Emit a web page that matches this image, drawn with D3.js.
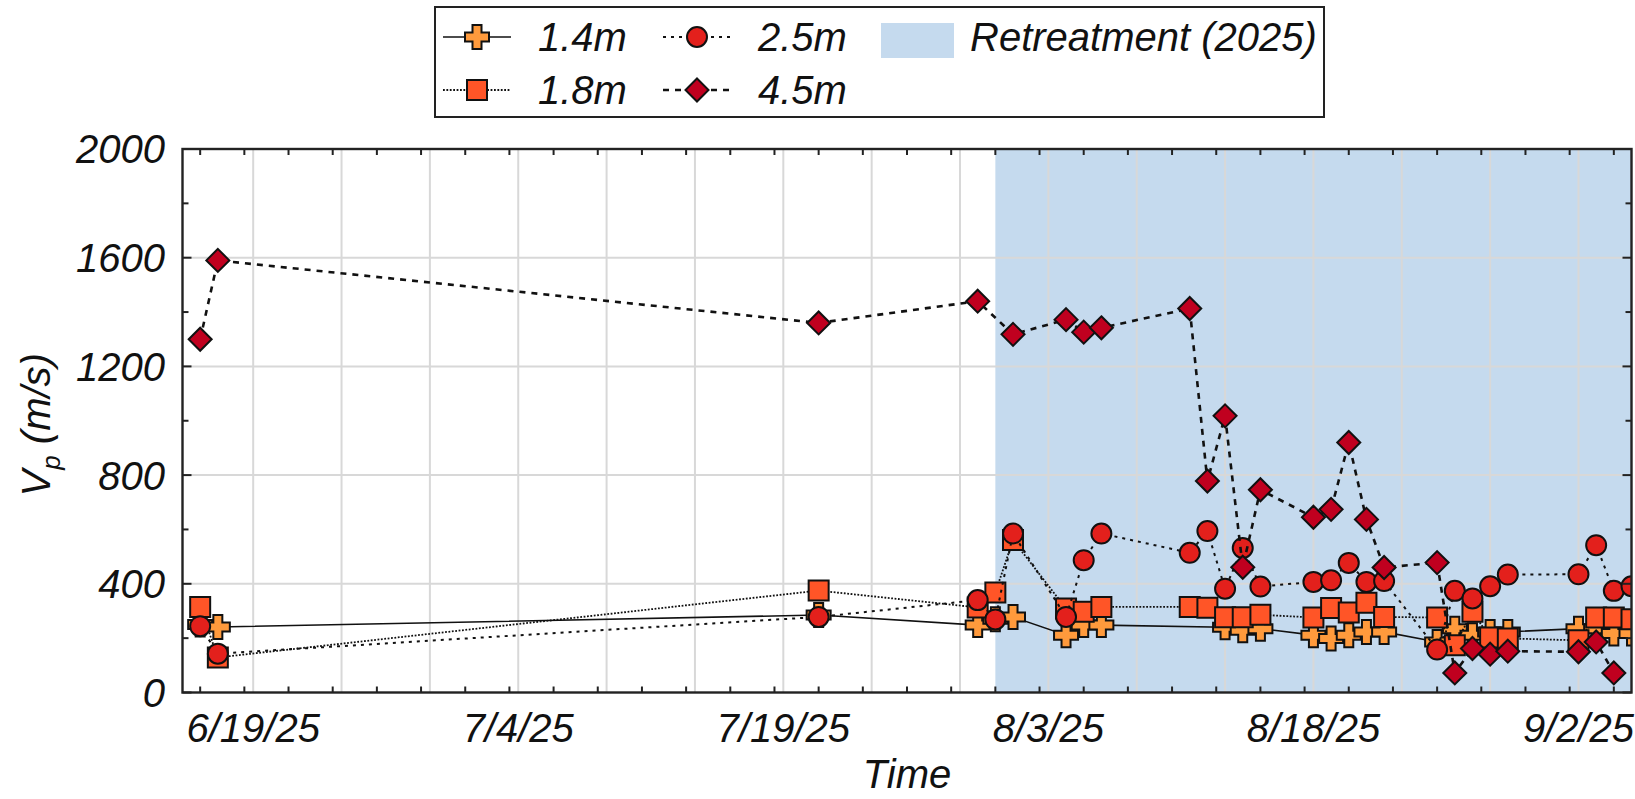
<!DOCTYPE html>
<html>
<head>
<meta charset="utf-8">
<script src="https://cdn.jsdelivr.net/npm/d3@7"></script>
<style>
  html, body { margin: 0; padding: 0; background: #ffffff; }
  svg text { font-family: "Liberation Sans", Arial, sans-serif; font-style: italic; fill: #111; }
</style>
</head>
<body>
<svg id="chart" width="1635" height="799"></svg>
<script>
// ---- measurement dates (m/d, 2025) and P-wave velocities (m/s) ----
const dates14 = ["6/16","6/17","7/21","7/30","7/31","8/1","8/4","8/5","8/6","8/13","8/14","8/15","8/18","8/19","8/20","8/21","8/22","8/25","8/26","8/27","8/28","8/29","9/2","9/3","9/4","9/5"];
const vp14    = [250, 241, 285, 248, 270, 278, 211, 248, 248, 240, 229, 235, 211, 199, 211, 223, 223, 186, 235, 211, 223, 223, 235, 235, 217, 217];

const dates18 = ["6/16","6/17","7/21","7/30","7/31","8/1","8/4","8/5","8/6","8/11","8/12","8/13","8/14","8/15","8/18","8/19","8/20","8/21","8/22","8/25","8/26","8/27","8/28","8/29","9/2","9/3","9/4","9/5"];
const vp18    = [315, 129, 375, 313, 368, 561, 309, 297, 315, 315, 312, 277, 277, 286, 276, 311, 294, 330, 278, 276, 174, 297, 202, 199, 192, 276, 276, 270];

const dates25 = ["6/16","6/17","7/21","7/30","7/31","8/1","8/4","8/5","8/6","8/11","8/12","8/13","8/14","8/15","8/18","8/19","8/20","8/21","8/22","8/25","8/26","8/27","8/28","8/29","9/2","9/3","9/4","9/5"];
const vp25    = [244, 143, 278, 340, 269, 585, 278, 487, 585, 514, 594, 382, 532, 390, 407, 413, 477, 407, 410, 158, 374, 346, 391, 434, 435, 542, 374, 391];

const dates45 = ["6/16","6/17","7/21","7/30","8/1","8/4","8/5","8/6","8/11","8/12","8/13","8/14","8/15","8/18","8/19","8/20","8/21","8/22","8/25","8/26","8/27","8/28","8/29","9/2","9/3","9/4"];
const vp45    = [1300, 1590, 1360, 1440, 1318, 1372, 1326, 1342, 1413, 778, 1018, 461, 746, 645, 674, 920, 637, 460, 478, 72, 162, 141, 152, 150, 186, 72];

// retreatment window and axis limits
const retreatStart = "7/31";
const xStart = "6/15", xEnd = "9/5";
const xTickDates = ["6/19","7/4","7/19","8/3","8/18","9/2"];
const yTicks = [0, 400, 800, 1200, 1600, 2000];

const parse = s => { const [m, d] = s.split("/").map(Number); return new Date(2025, m - 1, d); };
const fmt = d => `${d.getMonth() + 1}/${d.getDate()}/25`;

const svg = d3.select("#chart");
const M = { left: 182.5, right: 1631.5, top: 149, bottom: 692.5 };

const x = d3.scaleTime().domain([parse(xStart), parse(xEnd)]).range([M.left, M.right]);
const y = d3.scaleLinear().domain([0, 2000]).range([M.bottom, M.top]);

svg.append("defs").append("clipPath").attr("id", "plotclip")
  .append("rect").attr("x", M.left).attr("y", M.top)
  .attr("width", M.right - M.left).attr("height", M.bottom - M.top);

// shaded retreatment period
svg.append("rect")
  .attr("x", x(parse(retreatStart))).attr("y", M.top)
  .attr("width", M.right - x(parse(retreatStart))).attr("height", M.bottom - M.top)
  .attr("fill", "#c5daee");

// grid: every 5 days vertically, every 400 m/s horizontally
const gridDays = [];
for (let d = parse("6/19"); d <= parse(xEnd); d = d3.timeDay.offset(d, 5)) gridDays.push(d);
const g = svg.append("g").attr("stroke", "#d8d8d8").attr("stroke-width", 2);
gridDays.forEach(d => g.append("line").attr("x1", x(d)).attr("x2", x(d)).attr("y1", M.top).attr("y2", M.bottom));
yTicks.slice(1, -1).forEach(v => g.append("line").attr("x1", M.left).attr("x2", M.right).attr("y1", y(v)).attr("y2", y(v)));

// series styles
const series = [
  { name: "1.4m", dates: dates14, vals: vp14, shape: "plus",    fill: "#ff9a3c", dash: null,      lw: 1.6 },
  { name: "1.8m", dates: dates18, vals: vp18, shape: "square",  fill: "#ff5527", dash: "1.8,1.6", lw: 1.8 },
  { name: "2.5m", dates: dates25, vals: vp25, shape: "circle",  fill: "#e3201c", dash: "3,5",     lw: 2 },
  { name: "4.5m", dates: dates45, vals: vp45, shape: "diamond", fill: "#c0001f", dash: "6,6",     lw: 2.6 }
];

function markerPath(shape) {
  if (shape === "plus") {
    const a = 12, b = 4.5;
    return `M${-b},${-a}H${b}V${-b}H${a}V${b}H${b}V${a}H${-b}V${b}H${-a}V${-b}H${-b}Z`;
  }
  if (shape === "square") return "M-10,-10H10V10H-10Z";
  if (shape === "diamond") return "M0,-11.5L11.5,0L0,11.5L-11.5,0Z";
  return d3.symbol(d3.symbolCircle, Math.PI * 10 * 10)();
}

const plot = svg.append("g").attr("clip-path", "url(#plotclip)");
const line = d3.line().x(d => x(d.t)).y(d => y(d.v));

series.forEach(s => {
  s.pts = s.dates.map((t, i) => ({ t: parse(t), v: s.vals[i] }));
});
// each series: line, then its markers, in plotting order
series.forEach(s => {
  const p = plot.append("path").datum(s.pts).attr("d", line)
    .attr("fill", "none").attr("stroke", "#111").attr("stroke-width", s.lw);
  if (s.dash) p.attr("stroke-dasharray", s.dash);
  plot.selectAll(null).data(s.pts).enter().append("path")
    .attr("d", markerPath(s.shape))
    .attr("transform", d => `translate(${x(d.t)},${y(d.v)})`)
    .attr("fill", s.fill).attr("stroke", "#111").attr("stroke-width", 2);
});

// axes box and inward ticks (ticks on all four sides)
const ax = svg.append("g").attr("stroke", "#222");
ax.append("rect").attr("x", M.left).attr("y", M.top).attr("width", M.right - M.left).attr("height", M.bottom - M.top)
  .attr("fill", "none").attr("stroke-width", 2.4);
const minorDays = [];
for (let d = parse("6/16"); d <= parse(xEnd); d = d3.timeHour.offset(d, 60)) minorDays.push(d);
minorDays.forEach(d => {
  const isMajor = gridDays.some(g0 => Math.abs(g0 - d) < 3600e3);
  const L = isMajor ? 9 : 6;
  ax.append("line").attr("x1", x(d)).attr("x2", x(d)).attr("y1", M.bottom).attr("y2", M.bottom - L).attr("stroke-width", 2);
  ax.append("line").attr("x1", x(d)).attr("x2", x(d)).attr("y1", M.top).attr("y2", M.top + L).attr("stroke-width", 2);
});
d3.range(0, 2001, 200).forEach(v => {
  const L = v % 400 === 0 ? 9 : 6;
  ax.append("line").attr("x1", M.left).attr("x2", M.left + L).attr("y1", y(v)).attr("y2", y(v)).attr("stroke-width", 2);
  ax.append("line").attr("x1", M.right).attr("x2", M.right - L).attr("y1", y(v)).attr("y2", y(v)).attr("stroke-width", 2);
});

// tick labels
const FS = 40;
const labels = svg.append("g").attr("font-size", FS);
yTicks.forEach(v => labels.append("text").attr("x", 165).attr("y", y(v)).attr("dy", "0.36em")
  .attr("text-anchor", "end").text(v));
xTickDates.forEach(t => labels.append("text").attr("x", x(parse(t))).attr("y", 742)
  .attr("text-anchor", "middle").text(fmt(parse(t))));

// axis titles
svg.append("text").attr("x", (M.left + M.right) / 2).attr("y", 788).attr("text-anchor", "middle")
  .attr("font-size", FS).text("Time");
const yl = svg.append("text").attr("transform", `translate(50,${(M.top + M.bottom) / 2 + 4}) rotate(-90)`)
  .attr("text-anchor", "middle").attr("font-size", FS);
yl.append("tspan").text("V");
yl.append("tspan").attr("font-size", 26).attr("dy", 10).text("p");
yl.append("tspan").attr("dy", -10).text(" (m/s)");

// legend
const lg = svg.append("g");
lg.append("rect").attr("x", 435).attr("y", 7).attr("width", 889).attr("height", 110)
  .attr("fill", "#fff").attr("stroke", "#222").attr("stroke-width", 2);
const legPos = [
  { s: series[0], lx: 443, cy: 37 },
  { s: series[2], lx: 663, cy: 37 },
  { s: series[1], lx: 443, cy: 90 },
  { s: series[3], lx: 663, cy: 90 }
];
legPos.forEach(({ s, lx, cy }) => {
  const l = lg.append("line").attr("x1", lx).attr("x2", lx + 68).attr("y1", cy).attr("y2", cy)
    .attr("stroke", "#111").attr("stroke-width", s.lw);
  if (s.dash) l.attr("stroke-dasharray", s.dash);
  lg.append("path").attr("d", markerPath(s.shape)).attr("transform", `translate(${lx + 34},${cy})`)
    .attr("fill", s.fill).attr("stroke", "#111").attr("stroke-width", 2);
  lg.append("text").attr("x", lx + 95).attr("y", cy).attr("dy", "0.36em").attr("font-size", FS).text(s.name);
});
lg.append("rect").attr("x", 881).attr("y", 23).attr("width", 73).attr("height", 35).attr("fill", "#c5daee");
lg.append("text").attr("x", 970).attr("y", 37).attr("dy", "0.36em").attr("font-size", FS).text("Retreatment (2025)");
</script>
</body>
</html>
